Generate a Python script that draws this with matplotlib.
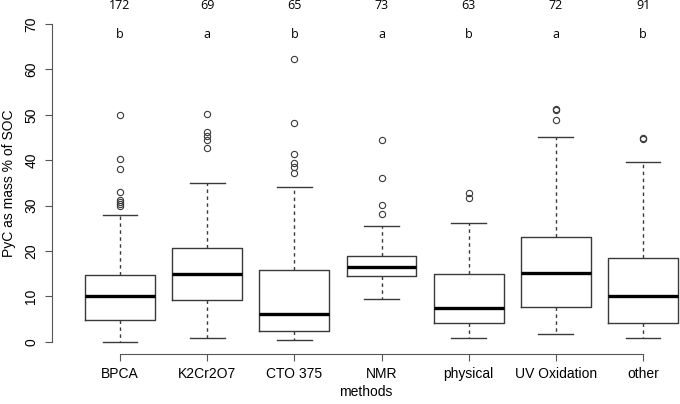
import numpy as np
import matplotlib
matplotlib.use("Agg")
import matplotlib.pyplot as plt

plt.rcParams['font.family'] = ['Liberation Sans', 'DejaVu Sans']

# data
methods = ["BPCA", "K2Cr2O7", "CTO 375", "NMR", "physical", "UV Oxidation", "other"]
counts = [172, 69, 65, 73, 63, 72, 91]
letters = ["b", "a", "b", "a", "b", "a", "b"]
whislo = [0.0, 0.9, 0.4, 9.4, 0.75, 1.7, 0.75]
q1 = [4.7, 9.2, 2.4, 14.5, 4.2, 7.7, 4.05]
med = [10.0, 14.9, 6.1, 16.5, 7.35, 15.1, 10.0]
q3 = [14.75, 20.6, 15.8, 18.9, 15.0, 23.1, 18.4]
whishi = [28.0, 35.0, 34.1, 25.5, 26.2, 45.1, 39.5]
fliers = [
    [30.0, 30.4, 30.8, 31.3, 32.9, 38.0, 40.3, 50.0],
    [42.6, 44.4, 45.3, 46.3, 50.1],
    [37.1, 38.5, 39.3, 41.3, 48.2, 62.4],
    [28.1, 30.1, 36.0, 44.4],
    [31.6, 32.8],
    [48.8, 51.0, 51.3],
    [44.7, 44.9],
]

stats = []
for i in range(len(methods)):
    stats.append(dict(med=med[i], q1=q1[i], q3=q3[i], whislo=whislo[i],
                      whishi=whishi[i], fliers=fliers[i], label=methods[i]))

fig = plt.figure(figsize=(6.8, 4.04), dpi=100)
ax = fig.add_axes([0.0765, 0.1228, 0.9235, 0.849])

edge = '#3a3a3a'
ax.bxp(stats, positions=np.arange(1, 8), widths=0.8, capwidths=0.4,
       boxprops=dict(color=edge, lw=1.0),
       whiskerprops=dict(color=edge, lw=1.0, linestyle=(0, (2.5, 2.5))),
       capprops=dict(color=edge, lw=1.0),
       medianprops=dict(color='black', lw=2.4),
       flierprops=dict(marker='o', markerfacecolor='none', markeredgecolor=edge,
                       markersize=4.5, markeredgewidth=0.8))

ax.set_xlim(0.22, 0.22 + 628 / 87.17)
ax.set_ylim(-2.8, 72.8)

for s in ['top', 'right']:
    ax.spines[s].set_visible(False)
ax.spines['left'].set_bounds(0, 70)
ax.spines['bottom'].set_bounds(1, 7)
ax.spines['left'].set_color('#555555')
ax.spines['bottom'].set_color('#555555')

ax.set_yticks(np.arange(0, 71, 10))
ax.set_xticks(np.arange(1, 8))
ax.set_xticklabels(methods)
ax.tick_params(axis='both', direction='out', length=5, color='#555555', labelsize=10)
ax.tick_params(axis='x', pad=4)
ax.tick_params(axis='y', pad=5)
for lab in ax.get_yticklabels():
    lab.set_rotation(90)
    lab.set_va('center')

ax.set_xlabel("methods", fontsize=10, labelpad=3)
ax.set_ylabel("PyC as mass % of SOC", fontsize=10, labelpad=6)

for i in range(len(methods)):
    ax.text(i + 1, 67.8, letters[i], ha='center', va='center', fontsize=9,
            family=['Open Sans', 'DejaVu Sans'])
    ax.text(i + 1, 74.0, str(counts[i]), ha='center', va='center', fontsize=9,
            family=['Open Sans', 'DejaVu Sans'], clip_on=False)

fig.savefig("out.png", dpi=100)
